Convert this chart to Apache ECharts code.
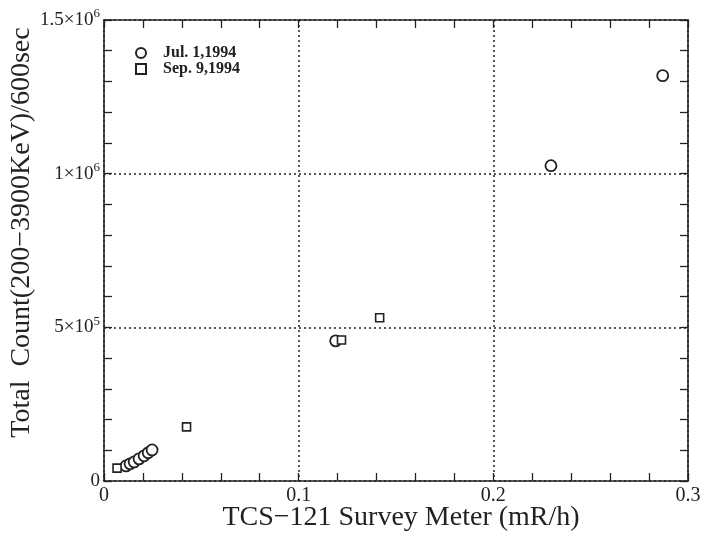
<!DOCTYPE html>
<html><head><meta charset="utf-8">
<script src="https://cdn.jsdelivr.net/npm/echarts@6/dist/echarts.min.js"></script>
<style>html,body{margin:0;padding:0;background:#fff}#c{width:712px;height:534px}</style>
</head><body><div id="c"></div>
<script>
const seriesNames = ['Jul. 1,1994', 'Sep. 9,1994'];
const julX = [0.0113, 0.0134, 0.0155, 0.018, 0.0206, 0.0227, 0.0247, 0.119, 0.2296, 0.287];
const julY = [49000, 56000, 62000, 72000, 82000, 92000, 101000, 456000, 1026000, 1319000];
const sepX = [0.0067, 0.0424, 0.122, 0.1416];
const sepY = [42000, 176000, 459000, 531000];
const xTickLabels = {0: '0', 0.1: '0.1', 0.2: '0.2', 0.3: '0.3'};
const yTickLabels = {0: ['0', ''], 500000: ['5×10', '5'], 1000000: ['1×10', '6'], 1500000: ['1.5×10', '6']};

const ink = '#222';
const font = 'Liberation Serif';
const chart = echarts.init(document.getElementById('c'));
function pairs(xs, ys) { return xs.map((x, i) => [x, ys[i]]); }
const tick = {show: true, inside: true, length: 8, lineStyle: {color: ink, width: 1.3}};
const minor = {show: true, splitNumber: 5, length: 8, lineStyle: {color: ink, width: 1.3}};
const axisLine = {show: true, onZero: false, lineStyle: {color: ink, width: 1.6}};
chart.setOption({
  backgroundColor: '#fff',
  animation: false,
  grid: {left: 104, right: 24, top: 20, bottom: 53, containLabel: false, outerBoundsMode: 'none'},
  legend: {
    orient: 'vertical', left: 130, top: 40, itemGap: 0, itemWidth: 10, itemHeight: 10,
    data: seriesNames,
    textStyle: {fontFamily: font, fontSize: 16, fontWeight: 'bold', color: ink, padding: [0, 0, 0, 12]}
  },
  xAxis: [{
    type: 'value', min: 0, max: 0.3, interval: 0.1, position: 'bottom',
    axisLine: axisLine, axisTick: tick, minorTick: minor,
    splitLine: {show: true, lineStyle: {color: ink, type: [2, 3], width: 1.5}},
    axisLabel: {fontFamily: font, fontSize: 20, color: ink, margin: 5,
      formatter: v => xTickLabels[Math.round(v * 10) / 10] || ''},
    name: 'TCS−121 Survey Meter (mR/h)', nameLocation: 'middle', nameGap: 23, nameMoveOverlap: false,
    nameTextStyle: {fontFamily: font, fontSize: 28, color: ink, padding: [0, 0, 0, 10]}
  }, {
    type: 'value', min: 0, max: 0.3, interval: 0.1, position: 'top',
    axisLine: axisLine, axisTick: tick, minorTick: minor,
    splitLine: {show: false}, axisLabel: {show: false}
  }],
  yAxis: [{
    type: 'value', min: 0, max: 1500000, interval: 500000, position: 'left',
    axisLine: axisLine, axisTick: tick, minorTick: minor,
    splitLine: {show: true, lineStyle: {color: ink, type: [2, 3], width: 1.5}},
    axisLabel: {
      margin: 4, color: ink,
      formatter: v => { const t = yTickLabels[v]; return t ? '{b|' + t[0] + '}' + (t[1] ? '{s|' + t[1] + '}' : '') : ''; },
      rich: {
        b: {fontFamily: font, fontSize: 19, color: ink},
        s: {fontFamily: font, fontSize: 13, color: ink, padding: [0, 0, 12, 0]}
      }
    },
    name: 'Total  Count(200−3900KeV)/600sec', nameLocation: 'middle', nameGap: 68, nameMoveOverlap: false,
    nameTextStyle: {fontFamily: font, fontSize: 28, color: ink, padding: [0, 0, 0, 36]}
  }, {
    type: 'value', min: 0, max: 1500000, interval: 500000, position: 'right',
    axisLine: axisLine, axisTick: tick, minorTick: minor,
    splitLine: {show: false}, axisLabel: {show: false}
  }],
  series: [{
    name: seriesNames[0], type: 'scatter', symbol: 'circle', symbolSize: 11,
    itemStyle: {color: '#fff', borderColor: ink, borderWidth: 1.8, opacity: 1},
    data: pairs(julX, julY)
  }, {
    name: seriesNames[1], type: 'scatter', symbol: 'rect', symbolSize: 8,
    itemStyle: {color: '#fff', borderColor: ink, borderWidth: 1.6, opacity: 1},
    data: pairs(sepX, sepY)
  }]
});
</script></body></html>
